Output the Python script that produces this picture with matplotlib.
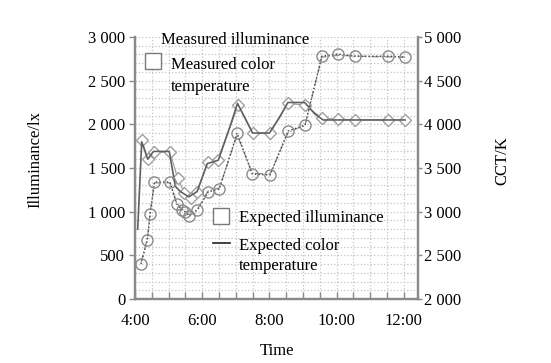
import matplotlib
matplotlib.use("Agg")
import matplotlib.pyplot as plt
from matplotlib.lines import Line2D
from matplotlib.legend_handler import HandlerLine2D
from matplotlib.ticker import MultipleLocator, FixedLocator

plt.rcParams['font.family'] = ['Liberation Serif', 'DejaVu Serif']
plt.rcParams['font.size'] = 12

# ---- data (hours of day) ----
meas_time = [4.20, 4.38, 4.57, 5.04, 5.27, 5.47, 5.66, 5.84, 6.17, 6.46, 7.07, 7.51, 8.02,
             8.55, 9.06, 9.57, 10.04, 10.55, 11.53, 12.04]
meas_lux = [1820, 1600, 1680, 1680, 1385, 1215, 1160, 1230, 1570, 1590, 2220, 1900, 1900,
            2240, 2220, 2070, 2060, 2050, 2050, 2050]

exp_lux_time = [4.08, 4.20, 4.38, 4.55, 5.02, 5.20, 5.35, 5.60, 5.85, 6.15, 6.48, 6.85, 7.05,
                7.50, 8.00, 8.30, 8.55, 9.05, 9.35, 9.60, 10.05, 11.00, 12.04]
exp_lux = [800, 1800, 1600, 1690, 1690, 1290, 1230, 1170, 1230, 1550, 1590, 2000, 2240,
           1900, 1900, 2080, 2250, 2250, 2120, 2050, 2050, 2050, 2050]

cct_time = [4.18, 4.37, 4.45, 4.58, 5.04, 5.24, 5.39, 5.49, 5.61, 5.86, 6.18, 6.51, 7.04,
            7.49, 8.02, 8.56, 9.06, 9.56, 10.05, 10.55, 11.54, 12.04]
meas_cct = [2400, 2680, 2970, 3340, 3340, 3090, 3020, 3000, 2950, 3020, 3225, 3260, 3900,
            3430, 3420, 3925, 3990, 4780, 4805, 4780, 4780, 4770]

exp_cct_time = [4.18, 4.37, 4.45, 4.58, 5.04, 5.24, 5.45, 5.65, 5.86, 6.18, 6.51, 7.04,
                7.49, 8.02, 8.56, 9.06, 9.56, 10.05, 11.00, 12.04]
exp_cct = [2420, 2700, 2990, 3330, 3330, 3100, 3010, 2960, 3030, 3240, 3270, 3880,
           3440, 3430, 3910, 3990, 4770, 4790, 4775, 4770]

x_ticks = [4, 6, 8, 10, 12]
x_tick_labels = ["4:00", "6:00", "8:00", "10:00", "12:00"]
lux_ticks = [0, 500, 1000, 1500, 2000, 2500, 3000]
lux_tick_labels = ["0", "500", "1 000", "1 500", "2 000", "2 500", "3 000"]
cct_ticks = [2000, 2500, 3000, 3500, 4000, 4500, 5000]
cct_tick_labels = ["2 000", "2 500", "3 000", "3 500", "4 000", "4 500", "5 000"]

labels = ["Measured illuminance", "Measured color\ntemperature",
          "Expected illuminance", "Expected color\ntemperature"]


class TopAlignedHandler(HandlerLine2D):
    """Place the legend handle level with the first line of a two-line label."""
    def __init__(self, shift, **kw):
        super().__init__(**kw)
        self.shift = shift

    def create_artists(self, legend, orig_handle, xdescent, ydescent, width, height,
                       fontsize, trans):
        arts = super().create_artists(legend, orig_handle, xdescent, ydescent, width,
                                      height, fontsize, trans)
        for a in arts:
            if isinstance(a, Line2D):
                a.set_ydata([y + self.shift for y in a.get_ydata()])
        return arts


W, H = 551, 363
fig = plt.figure(figsize=(W / 100, H / 100), dpi=100)
ax = fig.add_axes([135 / W, 1 - 299 / H, (418 - 135) / W, (299 - 37) / H])
ax2 = ax.twinx()

spine_c = '#8a8a8a'
for a in (ax, ax2):
    for s in a.spines.values():
        s.set_color(spine_c)
        s.set_linewidth(1.6)
    a.spines['top'].set_visible(False)

ax.set_xlim(4, 4 + (418 - 135) / 33.6)
ax.set_ylim(0, 3000)
ax2.set_ylim(2000, 5000)

ax.xaxis.set_major_locator(FixedLocator(x_ticks))
ax.set_xticklabels(x_tick_labels)
ax.xaxis.set_minor_locator(MultipleLocator(0.5))
ax.set_yticks(lux_ticks)
ax.set_yticklabels(lux_tick_labels)
ax.yaxis.set_minor_locator(MultipleLocator(100))
ax2.set_yticks(cct_ticks)
ax2.set_yticklabels(cct_tick_labels)

ax.tick_params(axis='x', which='both', direction='in', length=5, color=spine_c, pad=10, width=1)
ax.tick_params(axis='y', which='major', direction='out', length=4, color=spine_c, pad=3, width=1)
ax.tick_params(axis='y', which='minor', length=0)
ax2.tick_params(axis='y', which='major', direction='out', length=3, color=spine_c, pad=1, width=1)

ax.grid(True, which='both', color='#c4c4c4', linestyle=':', linewidth=0.9)
ax.set_axisbelow(True)

# measured illuminance (diamonds)
ax.plot(meas_time, meas_lux, color='#9a9a9a', lw=0.8, marker='D', ms=6.5,
        mfc='white', mec='#a0a0a0', mew=1.0, zorder=3)
# expected illuminance (solid line)
ax.plot(exp_lux_time, exp_lux, color='#606060', lw=1.2, zorder=4)
# measured CCT (circles, dotted)
ax2.plot(cct_time, meas_cct, color='#444444', lw=1.0, ls=':', marker='o', ms=8,
         mfc='none', mec='#8a8a8a', mew=1.0, zorder=3)
# expected CCT (dash-dot)
ax2.plot(exp_cct_time, exp_cct, color='#909090', lw=0.9, ls='-.', zorder=2)

ax.set_xlabel("Time", labelpad=10)
ax.set_ylabel("Illuminance/lx")
ax.yaxis.set_label_coords(-0.325, 0.534)
ax2.set_ylabel("CCT/K")
ax2.yaxis.set_label_coords(1.271, 0.53)

sq = dict(marker='s', ms=11, mfc='white', mec='#7a7a7a', mew=1.0, ls='none')
common = dict(loc='upper left', frameon=False, bbox_transform=fig.transFigure,
              borderpad=0, borderaxespad=0, fontsize=12)

legA = ax2.legend([Line2D([], [], ls='none')], labels[:1],
                  bbox_to_anchor=(161 / W, 1 - 32 / H),
                  handlelength=0, handletextpad=0, **common)
ax2.add_artist(legA)

sq_handle_b = Line2D([], [], **sq)
legB = ax2.legend([sq_handle_b], labels[1:2],
                  bbox_to_anchor=(145 / W, 1 - 57 / H),
                  handlelength=1.0, handletextpad=0.55,
                  handler_map={sq_handle_b: TopAlignedHandler(shift=11)}, **common)
for t in legB.get_texts():
    t.set_linespacing(1.5)
ax2.add_artist(legB)

sq_handle_c = Line2D([], [], **sq)
line_handle_c = Line2D([], [], color='#222222', lw=1.2)
legC = ax2.legend([sq_handle_c, line_handle_c], labels[2:],
                  bbox_to_anchor=(213 / W, 1 - 210 / H),
                  handlelength=1.0, handletextpad=0.55, labelspacing=0.7,
                  handler_map={line_handle_c: TopAlignedHandler(shift=9)}, **common)
for t in legC.get_texts():
    t.set_linespacing(1.35)

fig.savefig("out.png", dpi=100, facecolor='white')
